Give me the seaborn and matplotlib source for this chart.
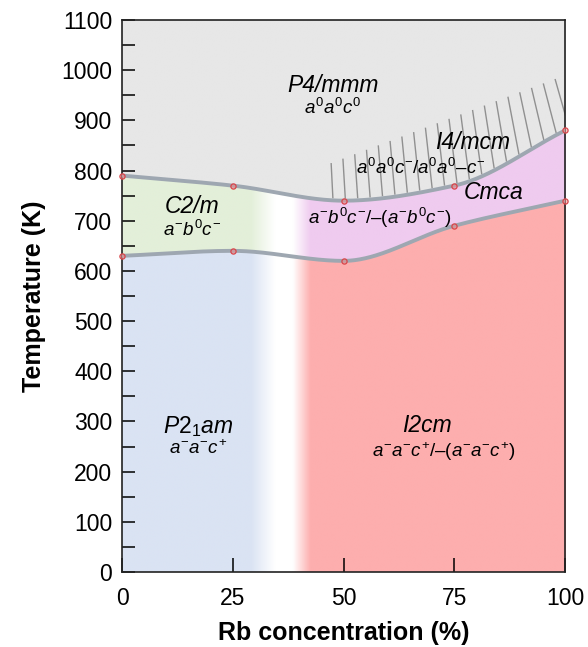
import numpy as np
import pandas as pd
import matplotlib
matplotlib.use("Agg")
import matplotlib.pyplot as plt
import seaborn as sns

# ---- data ----
rb_conc = [0, 25, 50, 75, 100]
t_upper = [790, 770, 740, 770, 880]   # P4/mmm / I4/mcm boundary
t_lower = [630, 640, 620, 690, 740]   # lower boundary
x_ticks = [0, 25, 50, 75, 100]
y_ticks = list(range(0, 1101, 100))

sns.set_style("ticks")
plt.rcParams['font.family'] = ['Liberation Sans', 'DejaVu Sans']
plt.rcParams['mathtext.fontset'] = 'custom'
plt.rcParams['mathtext.rm'] = 'Liberation Sans'
plt.rcParams['mathtext.it'] = 'Liberation Sans:italic'
plt.rcParams['mathtext.bf'] = 'Liberation Sans:bold'
for k in ['text.color', 'axes.labelcolor', 'xtick.color', 'ytick.color',
          'xtick.labelcolor', 'ytick.labelcolor']:
    plt.rcParams[k] = 'black'


def pchip(xk, yk, xq):
    xk = np.asarray(xk, float); yk = np.asarray(yk, float)
    h = np.diff(xk); d = np.diff(yk) / h
    m = np.zeros_like(yk)
    for i in range(1, len(xk) - 1):
        if d[i - 1] * d[i] > 0:
            w1 = 2 * h[i] + h[i - 1]; w2 = h[i] + 2 * h[i - 1]
            m[i] = (w1 + w2) / (w1 / d[i - 1] + w2 / d[i])
        else:
            m[i] = 0.0
    m[0] = d[0]; m[-1] = d[-1]
    xq = np.asarray(xq, float)
    idx = np.clip(np.searchsorted(xk, xq) - 1, 0, len(h) - 1)
    t = (xq - xk[idx]) / h[idx]
    h00 = 2 * t**3 - 3 * t**2 + 1; h10 = t**3 - 2 * t**2 + t
    h01 = -2 * t**3 + 3 * t**2; h11 = t**3 - t**2
    return (h00 * yk[idx] + h10 * h[idx] * m[idx] + h01 * yk[idx + 1]
            + h11 * h[idx] * m[idx + 1])


fig = plt.figure(figsize=(5.88, 6.47), dpi=100)
ax = fig.add_axes([0.2075, 0.116, 0.7535, 0.853])

# ---- background regions as an image ----
nx, ny = 600, 700
xs = np.linspace(0, 100, nx)
ys = np.linspace(0, 1100, ny)
up = pchip(rb_conc, t_upper, xs)
lo = pchip(rb_conc, t_lower, xs)
X, Y = np.meshgrid(xs, ys)
UP = np.broadcast_to(up, X.shape); LO = np.broadcast_to(lo, X.shape)

def hex2rgb(h):
    return np.array(matplotlib.colors.to_rgb(h))

grey = hex2rgb('#e7e7e7'); green = hex2rgb('#e3efd9'); pink = hex2rgb('#efcbef')
blue = hex2rgb('#dae3f3'); red = hex2rgb('#fdaeae'); white = np.ones(3)

def ramp(x, a, b):
    return np.clip((x - a) / (b - a), 0, 1)

wl = 1 - ramp(X, 29, 34.5)
wr = ramp(X, 38.5, 42.5)
wl = wl[..., None]; wr = wr[..., None]
mid = wl * green + wr * pink + (1 - wl - wr) * white
bot = wl * blue + wr * red + (1 - wl - wr) * white
img = np.where((Y >= UP)[..., None], grey, np.where((Y >= LO)[..., None], mid, bot))
ax.imshow(img, origin='lower', extent=[0, 100, 0, 1100], aspect='auto', zorder=0,
          interpolation='bilinear')

# ---- hatching above the I4/mcm boundary ----
hx = np.arange(47.6, 101, 2.8)
for xb in hx:
    yb = pchip(rb_conc, t_upper, [xb])[0]
    ytop = 815 + (xb - 47.6) * (980 - 815) / (100 - 47.6)
    dx = 0.4 + (xb - 47.6) * 0.05
    ax.plot([xb, xb - dx], [yb + 4, ytop], color='#909090', lw=1.0, zorder=2,
            solid_capstyle='butt')

# ---- boundaries ----
xf = np.linspace(0, 100, 400)
ax.plot(xf, pchip(rb_conc, t_upper, xf), color='#9ea7b1', lw=2.8, zorder=3)
ax.plot(xf, pchip(rb_conc, t_lower, xf), color='#9ea7b1', lw=2.8, zorder=3)

pts = pd.DataFrame({'x': rb_conc * 2, 'T': t_upper + t_lower})
sns.scatterplot(data=pts, x='x', y='T', ax=ax, s=14, color=(0.95, 0.55, 0.55, 0.5),
                edgecolor='#d9454a', linewidth=0.9, zorder=4, clip_on=False)

# ---- labels ----
fs_big, fs_small = 16.5, 13.5
ax.text(47.6, 970, 'P4/mmm', fontsize=fs_big, style='italic', ha='center', va='center')
ax.text(47.4, 925, r'$a^0a^0c^0$', fontsize=fs_small, ha='center', va='center')
ax.text(79.2, 856, 'I4/mcm', fontsize=fs_big, style='italic', ha='center', va='center')
ax.text(67.3, 806, r'$a^0a^0c^{-}/a^0a^0\text{–}c^{-}$', fontsize=fs_small, ha='center', va='center')
ax.text(83.8, 756, 'Cmca', fontsize=fs_big, style='italic', ha='center', va='center')
ax.text(58.2, 706, r'$a^{-}b^0c^{-}/\text{–}(a^{-}b^0c^{-})$', fontsize=fs_small, ha='center', va='center')
ax.text(15.8, 729, 'C2/m', fontsize=fs_big, style='italic', ha='center', va='center')
ax.text(15.8, 682, r'$a^{-}b^0c^{-}$', fontsize=fs_small, ha='center', va='center')
ax.text(17.1, 290, r'$P2_1am$', fontsize=fs_big, ha='center', va='center')
ax.text(17.1, 246, r'$a^{-}a^{-}c^{+}$', fontsize=fs_small, ha='center', va='center')
ax.text(68.8, 291, 'I2cm', fontsize=fs_big, style='italic', ha='center', va='center')
ax.text(72.5, 240, r'$a^{-}a^{-}c^{+}/\text{–}(a^{-}a^{-}c^{+})$', fontsize=fs_small, ha='center', va='center')

# ---- axes ----
ax.set_xlim(0, 100)
ax.set_ylim(0, 1100)
ax.set_xticks(x_ticks)
ax.set_xticklabels([str(v) for v in x_ticks])
ax.set_yticks(y_ticks)
ax.set_yticklabels([str(v) for v in y_ticks])
ax.set_yticks(np.arange(50, 1100, 100), minor=True)
ax.tick_params(axis='both', which='both', direction='in', labelsize=16.5, width=1.1,
               color='black')
ax.tick_params(axis='y', which='both', length=9, pad=7)
ax.tick_params(axis='x', which='major', length=10, pad=11)
for s in ax.spines.values():
    s.set_visible(True)
    s.set_linewidth(1.2)
    s.set_color('#222222')
ax.set_xlabel('Rb concentration (%)', fontsize=18, fontweight='bold', labelpad=8)
ax.set_ylabel('Temperature (K)', fontsize=18, fontweight='bold', labelpad=11)

fig.savefig('out.png', dpi=100)
